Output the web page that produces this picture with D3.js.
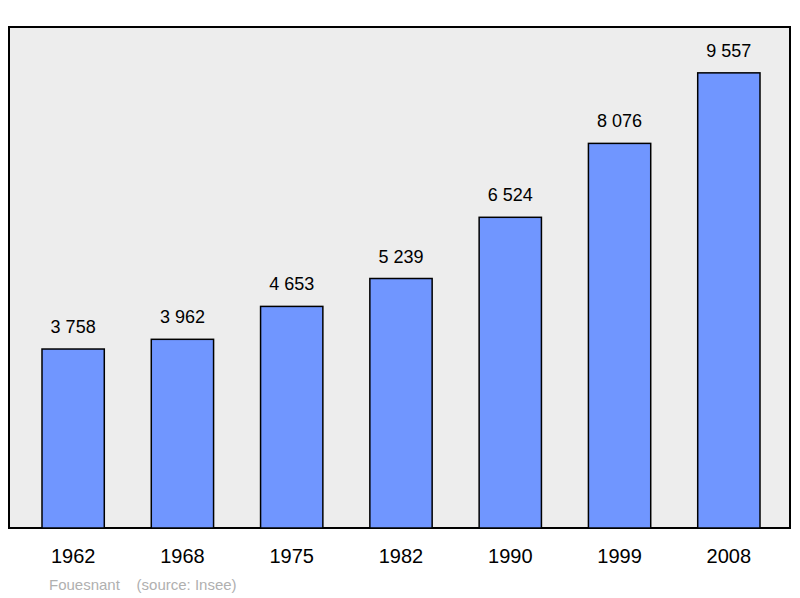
<!DOCTYPE html><html><head><script src="https://cdn.jsdelivr.net/npm/d3@7"></script>
<style>body{margin:0;background:#fff}</style></head><body><svg id="c" width="800" height="598"></svg>
<script>
const years=["1962","1968","1975","1982","1990","1999","2008"];
const population=[3758,3962,4653,5239,6524,8076,9557];
const labels=["3 758","3 962","4 653","5 239","6 524","8 076","9 557"];
const svg=d3.select("#c");
const font="Liberation Sans, Arial, sans-serif";
svg.append("rect").attr("x",9).attr("y",27).attr("width",781).attr("height",501).attr("fill","#ededed").attr("stroke","#000").attr("stroke-width",2);
const x=d3.scaleBand().domain(years).range([18.5,783.5]).paddingInner(0.43).paddingOuter(0.215);
const y=d3.scaleLinear().domain([0,10520]).range([528,27]);
const g=svg.append("g");
g.selectAll("rect.b").data(population).join("rect").attr("class","b")
 .attr("x",(d,i)=>x(years[i])).attr("y",d=>y(d)).attr("width",x.bandwidth()).attr("height",d=>528-y(d))
 .attr("fill","#7096ff").attr("stroke","#000").attr("stroke-width",1.5);
g.selectAll("text.v").data(population).join("text").attr("class","v")
 .attr("x",(d,i)=>x(years[i])+x.bandwidth()/2).attr("y",d=>y(d)-16).attr("text-anchor","middle")
 .attr("font-family",font).attr("font-size",18).text((d,i)=>labels[i]);
g.selectAll("text.yr").data(years).join("text").attr("class","yr")
 .attr("x",d=>x(d)+x.bandwidth()/2).attr("y",563).attr("text-anchor","middle")
 .attr("font-family",font).attr("font-size",20).text(d=>d);
svg.append("text").attr("x",49).attr("y",590).attr("font-family",font).attr("font-size",15).attr("fill","#b0b0b0").attr("xml:space","preserve").text("Fouesnant    (source: Insee)");
</script></body></html>
